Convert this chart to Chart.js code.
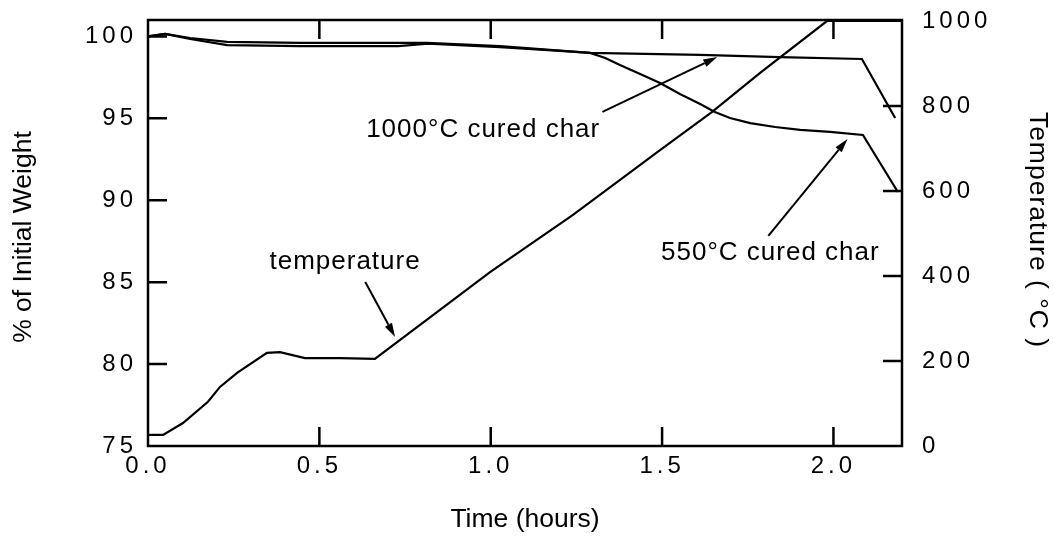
<!DOCTYPE html>
<html><head><meta charset="utf-8">
<script src="https://cdn.jsdelivr.net/npm/chart.js@4.4.1/dist/chart.umd.min.js"></script>
<style>html,body{margin:0;padding:0;background:#fff;}canvas{display:block;}</style>
</head><body>
<canvas id="c" width="1054" height="544"></canvas>
<script>
// ---- data (time in hours) ----
const tempTime   = [0, 0.044, 0.102, 0.175, 0.210, 0.260, 0.347, 0.385, 0.458, 0.560, 0.662, 0.998, 1.240, 1.494, 1.646, 1.786, 1.981, 2.2];
const tempValues = [26, 26, 54, 104, 139, 172, 219, 221, 207, 207, 205, 409, 544, 696, 786, 878, 1000, 1000];

const char1000Time   = [0, 0.050, 0.123, 0.231, 0.444, 0.814, 1.027, 1.290, 1.611, 1.844, 2.083, 2.180];
const char1000Weight = [100.0, 100.15, 99.90, 99.66, 99.60, 99.60, 99.41, 98.99, 98.87, 98.74, 98.62, 95.02];

const char550Time   = [0, 0.050, 0.123, 0.231, 0.444, 0.730, 0.817, 1.027, 1.202, 1.290, 1.334, 1.377, 1.436, 1.494, 1.552, 1.611, 1.654, 1.698, 1.757, 1.830, 1.903, 1.990, 2.086, 2.188];
const char550Weight = [100.0, 100.15, 99.84, 99.47, 99.41, 99.41, 99.55, 99.35, 99.11, 98.99, 98.68, 98.25, 97.70, 97.15, 96.48, 95.87, 95.38, 95.02, 94.71, 94.47, 94.29, 94.17, 93.98, 90.50];

const xTicks     = [0, 0.5, 1.0, 1.5, 2.0];
const leftTicks  = [75, 80, 85, 90, 95, 100];
const rightTicks = [0, 200, 400, 600, 800, 1000];

// annotations (x in hours, y in % of initial weight)
const annoTexts = ['1000°C cured char', '550°C cured char', 'temperature'];
const annoTextX = [0.978, 1.816, 0.575];
const annoTextY = [94.29, 86.78, 86.23];
const arrowFromX = [1.326, 1.810, 0.634];
const arrowFromY = [95.39, 87.82, 85.01];
const arrowToX   = [1.661, 2.041, 0.721];
const arrowToY   = [98.74, 93.74, 81.65];

const FONT = '"Liberation Sans", Arial, Helvetica, sans-serif';
const zip = (xs, ys) => xs.map((x, i) => ({x: x, y: ys[i]}));

const framePlugin = {
  id: 'frame',
  beforeDraw(chart) {
    chart.ctx.letterSpacing = '4px';
  },
  afterDraw(chart) {
    const ctx = chart.ctx, a = chart.chartArea;
    const sx = chart.scales.x, sy = chart.scales.y, sy1 = chart.scales.y1;
    ctx.save();
    ctx.letterSpacing = '0px';
    ctx.strokeStyle = '#000';
    ctx.lineWidth = 2.5;
    ctx.lineCap = 'butt';
    ctx.strokeRect(a.left, a.top, a.right - a.left, a.bottom - a.top);
    const TL = 19;
    ctx.beginPath();
    xTicks.forEach(v => {
      const p = sx.getPixelForValue(v);
      if (p <= a.left + 1 || p >= a.right - 1) return;
      ctx.moveTo(p, a.bottom); ctx.lineTo(p, a.bottom - TL);
      ctx.moveTo(p, a.top); ctx.lineTo(p, a.top + TL);
    });
    leftTicks.forEach(v => {
      const p = sy.getPixelForValue(v);
      if (p >= a.bottom - 1 || p <= a.top + 1) return;
      ctx.moveTo(a.left, p); ctx.lineTo(a.left + TL, p);
    });
    rightTicks.forEach(v => {
      const p = sy1.getPixelForValue(v);
      if (p >= a.bottom - 1 || p <= a.top + 2) return;
      ctx.moveTo(a.right, p); ctx.lineTo(a.right - TL, p);
    });
    ctx.stroke();

    // axis titles
    ctx.fillStyle = '#000';
    ctx.font = '26.5px ' + FONT;
    ctx.textAlign = 'center';
    ctx.textBaseline = 'middle';
    ctx.fillText('Time (hours)', (a.left + a.right) / 2, a.bottom + 74);
    ctx.save();
    ctx.translate(a.left - 124, (a.top + a.bottom) / 2 + 4);
    ctx.rotate(-Math.PI / 2);
    ctx.fillText('% of Initial Weight', 0, 0);
    ctx.restore();
    ctx.save();
    ctx.translate(a.right + 135, (a.top + a.bottom) / 2 - 3);
    ctx.rotate(Math.PI / 2);
    ctx.letterSpacing = '1px';
    ctx.fillText('Temperature ( °C )', 0, 0);
    ctx.restore();

    // annotations
    ctx.font = '26px ' + FONT;
    ctx.letterSpacing = '1px';
    annoTexts.forEach((t, i) => {
      ctx.fillText(t, sx.getPixelForValue(annoTextX[i]), sy.getPixelForValue(annoTextY[i]));
    });
    ctx.letterSpacing = '0px';
    ctx.lineWidth = 2;
    annoTexts.forEach((t, i) => {
      const x0 = sx.getPixelForValue(arrowFromX[i]), y0 = sy.getPixelForValue(arrowFromY[i]);
      const x1 = sx.getPixelForValue(arrowToX[i]),   y1 = sy.getPixelForValue(arrowToY[i]);
      const ang = Math.atan2(y1 - y0, x1 - x0);
      const L = 14, W = 4;
      const bx = x1 - L * Math.cos(ang), by = y1 - L * Math.sin(ang);
      ctx.beginPath(); ctx.moveTo(x0, y0); ctx.lineTo(bx, by); ctx.stroke();
      ctx.beginPath();
      ctx.moveTo(x1, y1);
      ctx.lineTo(bx + W * Math.sin(ang), by - W * Math.cos(ang));
      ctx.lineTo(bx - W * Math.sin(ang), by + W * Math.cos(ang));
      ctx.closePath(); ctx.fill();
    });
    ctx.restore();
  }
};

const lineStyle = {borderColor: '#000', borderWidth: 2.2, pointRadius: 0, tension: 0, fill: false};
const tickFont = {family: FONT, size: 24};
const fitV = (w) => (s) => { s.width = w; s.paddingTop = 0; s.paddingBottom = 0; };

new Chart(document.getElementById('c'), {
  type: 'line',
  data: {
    datasets: [
      Object.assign({label: 'temperature', data: zip(tempTime, tempValues), yAxisID: 'y1'}, lineStyle),
      Object.assign({label: '1000°C cured char', data: zip(char1000Time, char1000Weight), yAxisID: 'y'}, lineStyle),
      Object.assign({label: '550°C cured char', data: zip(char550Time, char550Weight), yAxisID: 'y'}, lineStyle)
    ]
  },
  options: {
    responsive: false,
    animation: false,
    devicePixelRatio: 1,
    layout: {padding: {top: 20, left: 0, right: 0, bottom: 0}},
    plugins: {legend: {display: false}, tooltip: {enabled: false}},
    scales: {
      x: {
        type: 'linear', position: 'bottom', min: 0, max: 2.2,
        afterFit: s => { s.height = 98; s.paddingLeft = 0; s.paddingRight = 0; },
        afterBuildTicks: s => { s.ticks = xTicks.map(v => ({value: v})); },
        grid: {display: false}, border: {display: false},
        ticks: {autoSkip: false, maxRotation: 0,
          callback: (v) => Number(v).toFixed(1),
          color: '#000', font: tickFont, padding: -2}
      },
      y: {
        type: 'linear', position: 'left', min: 75, max: 101,
        afterFit: fitV(148),
        afterBuildTicks: s => { s.ticks = leftTicks.map(v => ({value: v})); },
        grid: {display: false}, border: {display: false},
        ticks: {autoSkip: false, color: '#000', font: tickFont, padding: 3}
      },
      y1: {
        type: 'linear', position: 'right', min: 0, max: 1002.4,
        afterFit: fitV(152),
        afterBuildTicks: s => { s.ticks = rightTicks.map(v => ({value: v})); },
        grid: {display: false}, border: {display: false},
        ticks: {autoSkip: false, color: '#000', font: tickFont, padding: 12,
          callback: (v) => String(v)}
      }
    }
  },
  plugins: [framePlugin]
});
</script>
</body></html>
